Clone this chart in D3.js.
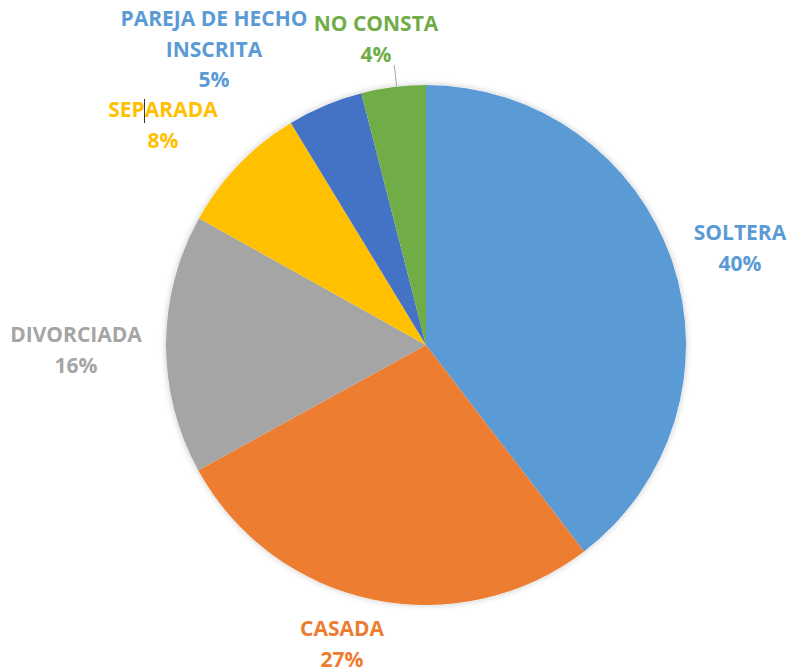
<!DOCTYPE html>
<html>
<head>
<meta charset="utf-8">
<script src="https://cdn.jsdelivr.net/npm/d3@7"></script>
<style>
  html, body { margin: 0; padding: 0; background: #fff; }
  svg { display: block; }
</style>
</head>
<body>
<svg id="canvas" width="787" height="672"></svg>
<script>
// estado civil
const categories = ["SOLTERA", "CASADA", "DIVORCIADA", "SEPARADA", "PAREJA DE HECHO INSCRITA", "NO CONSTA"];
const values = [39.6, 27.4, 16.1, 8.2, 4.7, 4.0];
const colors = ["#5B9BD5", "#ED7D31", "#A5A5A5", "#FFC000", "#4472C4", "#70AD47"];
const labelColors = ["#5B9BD5", "#ED7D31", "#A5A5A5", "#FFC000", "#5B9BD5", "#70AD47"];
// label text lines
const labelLines = [["SOLTERA"], ["CASADA"], ["DIVORCIADA"], ["SEPARADA"], ["PAREJA DE HECHO", "INSCRITA"], ["NO CONSTA"]];
// label anchor (center x, first baseline y)
const labelPos = [[740, 240], [342, 636], [76, 342], [163, 117], [214, 26], [376, 31]];

let svg = d3.select("#canvas");
let cx = 426, cy = 345, r = 260;
let lineH = 30.5;

let defs = svg.append("defs");
let f = defs.append("filter").attr("id", "shadow").attr("x", "-10%").attr("y", "-10%").attr("width", "120%").attr("height", "120%");
f.append("feDropShadow").attr("dx", 0).attr("dy", 0).attr("stdDeviation", 3).attr("flood-color", "#000").attr("flood-opacity", 0.22);

let total = d3.sum(values);
let pie = d3.pie().sort(null).value(d => d)(values);
let arc = d3.arc().innerRadius(0).outerRadius(r);

let g = svg.append("g").attr("transform", `translate(${cx},${cy})`);
g.append("circle").attr("r", r).attr("fill", "#fff").attr("filter", "url(#shadow)");
g.selectAll("path")
  .data(pie)
  .join("path")
  .attr("d", arc)
  .attr("fill", (d, i) => colors[i]);

// leader line for NO CONSTA
let nc = pie[5];
let ncAng = nc.startAngle + (nc.endAngle - nc.startAngle) * 0.55;
svg.append("line")
  .attr("x1", cx + (r) * Math.sin(ncAng)).attr("y1", cy - r * Math.cos(ncAng))
  .attr("x2", cx + (r + 22) * Math.sin(ncAng)).attr("y2", cy - (r + 22) * Math.cos(ncAng))
  .attr("stroke", "#A6A6A6").attr("stroke-width", 1);

let labels = svg.append("g")
  .style("font-family", "'Open Sans', 'Noto Sans', sans-serif")
  .style("font-weight", "bold")
  .style("font-size", "21px")
  .attr("text-anchor", "middle");

categories.forEach((c, i) => {
  let lines = labelLines[i].concat([Math.round(values[i] / total * 100) + "%"]);
  let t = labels.append("text").attr("fill", labelColors[i]);
  lines.forEach((s, j) => {
    t.append("tspan").attr("x", labelPos[i][0]).attr("y", labelPos[i][1] + j * lineH).text(s);
  });
});

// text cursor artifact in SEPARADA
svg.append("line").attr("x1", 144.5).attr("x2", 144.5).attr("y1", 99).attr("y2", 123)
  .attr("stroke", "#333").attr("stroke-width", 1);
</script>
</body>
</html>
